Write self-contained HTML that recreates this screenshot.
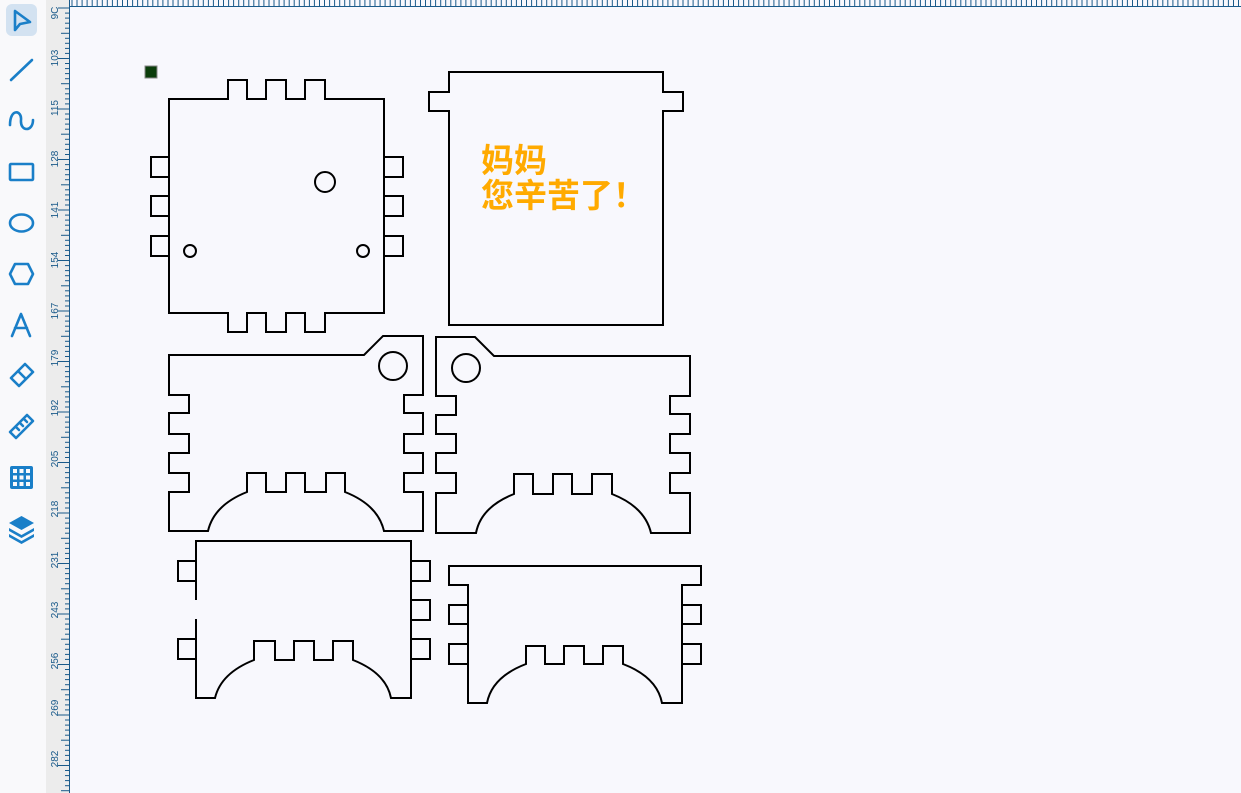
<!DOCTYPE html>
<html><head><meta charset="utf-8"><style>
html,body{margin:0;padding:0;width:1241px;height:793px;overflow:hidden;background:#f8f8fd;}
svg{display:block}
</style></head><body>
<svg width="1241" height="793" viewBox="0 0 1241 793" xmlns="http://www.w3.org/2000/svg">
<rect x="0" y="0" width="1241" height="793" fill="#f8f8fd"/>
<!-- toolbar -->
<rect x="0" y="0" width="46" height="793" fill="#f9f9fb"/>
<rect x="46" y="0" width="24" height="793" fill="#ececec"/>
<rect x="70" y="0" width="1171" height="7" fill="#f8f8fd"/>
<g id="topticks" stroke="#1a5a8a" stroke-width="1"></g>
<g id="leftticks" stroke="#1a5a8a" stroke-width="1"></g>
<line x1="69.5" y1="0" x2="69.5" y2="793" stroke="#1a5a8a"/>
<line x1="70" y1="6.5" x2="1241" y2="6.5" stroke="#1a5a8a"/>
<g font-family="Liberation Sans, sans-serif" font-size="10" fill="#1a5a8a" text-anchor="middle">
<text transform="translate(58,13) rotate(-90)">9C</text>
<text transform="translate(58,58) rotate(-90)">103</text>
<text transform="translate(58,108) rotate(-90)">115</text>
<text transform="translate(58,159) rotate(-90)">128</text>
<text transform="translate(58,210) rotate(-90)">141</text>
<text transform="translate(58,260) rotate(-90)">154</text>
<text transform="translate(58,311) rotate(-90)">167</text>
<text transform="translate(58,358) rotate(-90)">179</text>
<text transform="translate(58,408) rotate(-90)">192</text>
<text transform="translate(58,459) rotate(-90)">205</text>
<text transform="translate(58,509) rotate(-90)">218</text>
<text transform="translate(58,560) rotate(-90)">231</text>
<text transform="translate(58,610) rotate(-90)">243</text>
<text transform="translate(58,661) rotate(-90)">256</text>
<text transform="translate(58,708) rotate(-90)">269</text>
<text transform="translate(58,759) rotate(-90)">282</text>
</g>
<!-- tool icons -->
<rect x="6" y="4" width="31" height="32" rx="6" fill="#d3e2f1"/>
<g fill="none" stroke="#1a7fc8" stroke-width="2.6" stroke-linecap="round" stroke-linejoin="round">
<path d="M15 11 L15 30 L20 24 L30 22 Z"/>
<line x1="11" y1="80" x2="32" y2="60"/>
<path d="M10 125 C10 108 22 110 21 120 C20 132 33 132 33 120"/>
<rect x="10" y="164" width="23" height="16" rx="1"/>
<ellipse cx="21.5" cy="223" rx="11.5" ry="8.5"/>
<path d="M15 264 L28 264 L33 274 L28 284 L15 284 L10 274 Z"/>
<path d="M12 336 L21 314 L30 336 M15 328 L27 328"/>
<path d="M11 378 L25 364 L33 372 L19 386 Z M18 371 L26 379"/>
<path d="M10 432 L27 415 L33 421 L16 438 Z M16 427 l3 3 M20 423 l3 3 M24 419 l3 3"/>
</g>
<rect x="10" y="466" width="23" height="23" rx="2" fill="#1a7fc8"/>
<g fill="#f9f9fb"><rect x="13" y="469" width="4" height="4"/><rect x="19.5" y="469" width="4" height="4"/><rect x="26" y="469" width="4" height="4"/><rect x="13" y="475.5" width="4" height="4"/><rect x="19.5" y="475.5" width="4" height="4"/><rect x="26" y="475.5" width="4" height="4"/><rect x="13" y="482" width="4" height="4"/><rect x="19.5" y="482" width="4" height="4"/><rect x="26" y="482" width="4" height="4"/></g>
<g fill="#1a7fc8"><path d="M21.5 516 L34 523 L21.5 530 L9 523 Z"/><path d="M9 528 L21.5 535 L34 528 L34 531 L21.5 538 L9 531 Z"/><path d="M9 534 L21.5 541 L34 534 L34 537 L21.5 544 L9 537 Z"/></g>
<rect x="145" y="66" width="12" height="12" fill="#0b3d0b" stroke="#888" stroke-width="1"/>
<g fill="none" stroke="#000" stroke-width="2" stroke-linejoin="miter">
<!-- piece 1 -->
<path d="M169 99 H228 V80 H247 V99 H266 V80 H286 V99 H305 V80 H325 V99 H384 V313 H325 V332 H305 V313 H286 V332 H266 V313 H247 V332 H228 V313 H169 Z"/>
<rect x="151" y="157" width="18" height="20"/><rect x="151" y="196" width="18" height="20"/><rect x="151" y="236" width="18" height="20"/>
<rect x="384" y="157" width="19" height="20"/><rect x="384" y="196" width="19" height="20"/><rect x="384" y="236" width="19" height="20"/>
<circle cx="325" cy="182" r="10"/><circle cx="190" cy="251" r="6"/><circle cx="363" cy="251" r="6"/>
<!-- piece 2 -->
<path d="M449 72 H663 V92 H683 V111 H663 V325 H449 V111 H429 V92 H449 Z"/>
<!-- piece 3 -->
<path d="M169 355 H364 L383 336 H423 V395 H404 V413 H423 V434 H404 V453 H423 V473 H404 V492 H423 V531 H384 Q378 505 345 492 V473 H326 V492 H305 V473 H286 V492 H266 V473 H247 V492 Q214 505 208 531 H169 V492 H189 V473 H169 V453 H189 V434 H169 V413 H189 V395 H169 Z"/>
<circle cx="393" cy="366" r="14"/>
<!-- piece 4 -->
<path d="M436 337 H475 L494 356 H690 V396 H670 V414 H690 V434 H670 V453 H690 V473 H670 V493 H690 V533 H651 Q645 507 612 494 V474 H592 V494 H572 V474 H553 V494 H533 V474 H514 V494 Q481 507 476 533 H436 V493 H456 V473 H436 V453 H456 V434 H436 V415 H456 V396 H436 Z"/>
<circle cx="466" cy="368" r="14"/>
<!-- piece 5 -->
<path d="M196 600 V541 H411 V698 H391 Q386 673 353 660 V641 H333 V660 H314 V641 H294 V660 H275 V641 H254 V660 Q221 673 215 698 H196 V619"/>
<rect x="178" y="561" width="18" height="20"/><rect x="178" y="639" width="18" height="20"/>
<rect x="411" y="561" width="19" height="20"/><rect x="411" y="600" width="19" height="20"/><rect x="411" y="639" width="19" height="20"/>
<!-- piece 6 -->
<path d="M449 566 H701 V585 H682 V703 H662 Q657 677 623 664 V646 H603 V664 H584 V646 H564 V664 H545 V646 H526 V664 Q492 677 487 703 H468 V585 H449 Z"/>
<rect x="449" y="605" width="19" height="19"/><rect x="449" y="644" width="19" height="20"/>
<rect x="682" y="605" width="19" height="19"/><rect x="682" y="644" width="19" height="20"/>
</g>
<g font-family="Liberation Sans, 'Noto Sans CJK SC', sans-serif" font-size="33" font-weight="bold" fill="#ffaa00">
<text x="481" y="172">妈妈</text>
<text x="481" y="207">您辛苦了！</text>
</g>
<script>
(function(){
var ns="http://www.w3.org/2000/svg";
var t=document.getElementById('topticks');
for(var x=72;x<1241;x+=5.05){var l=document.createElementNS(ns,'line');l.setAttribute('x1',x.toFixed(1));l.setAttribute('x2',x.toFixed(1));l.setAttribute('y1',0);l.setAttribute('y2',6);t.appendChild(l);}
var g=document.getElementById('leftticks');
var i=0;
for(var y=8;y<793;y+=5.05,i++){var l=document.createElementNS(ns,'line');var len=(i%10==0)?12:((i%5==0)?9:5);l.setAttribute('x1',70-len);l.setAttribute('x2',70);l.setAttribute('y1',y.toFixed(1));l.setAttribute('y2',y.toFixed(1));g.appendChild(l);}
})();
</script>
</svg>
</body></html>
